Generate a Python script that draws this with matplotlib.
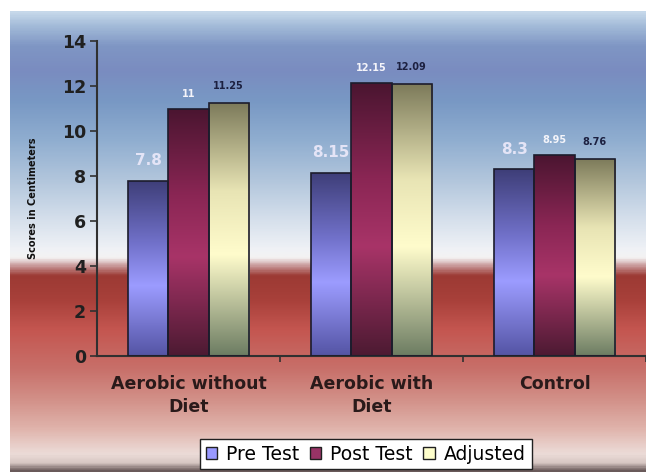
import numpy as np
import matplotlib.pyplot as plt
from matplotlib.colors import LinearSegmentedColormap
from matplotlib.patches import Patch

plt.rcParams['font.family'] = ['DejaVu Sans']

groups = ['Aerobic without\nDiet', 'Aerobic with\nDiet', 'Control']
series = ['Pre Test', 'Post Test', 'Adjusted']
pre_test = [7.8, 8.15, 8.3]
post_test = [11, 12.15, 8.95]
adjusted = [11.25, 12.09, 8.76]
y_ticks = [0, 2, 4, 6, 8, 10, 12, 14]

W, H = 646, 472
fig = plt.figure(figsize=(W / 100, H / 100), dpi=100)

# backdrop: blue sky fading to white, then a red band fading out at the bottom
bg_stops = [(11, '#c6d8ea'), (25, '#a2bad8'), (45, '#7f96c4'), (70, '#7a8cc0'),
            (100, '#7898c4'), (140, '#90aed0'), (180, '#b2c6dc'), (220, '#d6e0ec'),
            (250, '#f0f2f6'), (258, '#f4f2f2'), (266, '#c89898'), (276, '#9c3a34'),
            (300, '#a8403a'), (330, '#c45650'), (370, '#c8706a'), (400, '#d29088'),
            (430, '#e0b4ac'), (455, '#ecdcd8'), (464, '#d8c8c4'), (472, '#6a5a5a')]
bg_cmap = LinearSegmentedColormap.from_list(
    'bg', [((y - 11) / 461, c) for y, c in bg_stops])
bg = fig.add_axes([10 / W, 0, 636 / W, 461 / H])
bg.set_axis_off()
bg.imshow(np.linspace(0, 1, 600).reshape(-1, 1), cmap=bg_cmap, aspect='auto',
          interpolation='bilinear')

ax = fig.add_axes([97 / W, (H - 356) / H, 549 / W, 315 / H])
ax.patch.set_alpha(0)

# per-bar shading: dark top, bright band, darker foot
bar_cmaps = [
    LinearSegmentedColormap.from_list('pre', [(0, '#3e3e78'), (0.35, '#7070c8'), (0.6, '#9c9cff'), (1, '#5454a4')]),
    LinearSegmentedColormap.from_list('post', [(0, '#4a1530'), (0.35, '#8a2654'), (0.6, '#a83468'), (1, '#4c1a32')]),
    LinearSegmentedColormap.from_list('adj', [(0, '#7c7a5a'), (0.35, '#e8e4b4'), (0.6, '#fffccc'), (1, '#6c7c62')]),
]
legend_colors = ['#9999ff', '#993366', '#ffffcc']

x = np.arange(len(groups))
w = 0.22
grad = np.linspace(0, 1, 256).reshape(-1, 1)
for i, vals in enumerate([pre_test, post_test, adjusted]):
    bars = ax.bar(x + (i - 1) * w, vals, w, color='none', edgecolor='#1c1c2c',
                  linewidth=1.2, zorder=3)
    for b in bars:
        x0 = b.get_x()
        im = ax.imshow(grad, cmap=bar_cmaps[i], aspect='auto', origin='upper',
                       extent=[x0, x0 + w, 0, b.get_height()], zorder=2)
        im.set_clip_path(b)

# value labels
for xi, v in zip(x - w, pre_test):
    ax.annotate(f'{v:g}', (xi, v), xytext=(0, 14.5), textcoords='offset points',
                ha='center', va='center', fontsize=11, fontweight='bold', color='#e4e4f6')
for xi, v in zip(x, post_test):
    ax.annotate(f'{v:g}', (xi, v), xytext=(0, 10.5), textcoords='offset points',
                ha='center', va='center', fontsize=7, fontweight='bold', color='#f4f4fa')
for xi, v in zip(x + w, adjusted):
    ax.annotate(f'{v:g}', (xi, v), xytext=(0, 12), textcoords='offset points',
                ha='center', va='center', fontsize=7, fontweight='bold', color='#1c2040')

ax.set_xlim(-0.5, 2.5)
ax.set_ylim(0, 14)
ax.set_yticks(y_ticks)
ax.set_xticks(x, groups, fontsize=12.5, fontweight='bold', color='#2a1a1a', linespacing=1.3)
ax.set_xticks([0.5, 1.5, 2.5], minor=True)
ax.tick_params(axis='x', which='major', length=0, pad=14)
ax.tick_params(axis='x', which='minor', length=4, width=1.2, color='#303030')
ax.tick_params(axis='y', length=5, width=1.2, color='#303030', pad=3,
               labelsize=12.5, labelcolor='#202020')
for t in ax.get_yticklabels():
    t.set_fontweight('bold')
for s in ['top', 'right']:
    ax.spines[s].set_visible(False)
for s in ['left', 'bottom']:
    ax.spines[s].set_color('#303030')
    ax.spines[s].set_linewidth(1.5)

ax.set_ylabel('Scores in Centimeters', fontsize=7, fontweight='heavy', color='#101010')
ax.yaxis.set_label_coords(-0.107, 0.5)

handles = [Patch(facecolor=c, edgecolor='#202020', linewidth=1) for c in legend_colors]
leg = fig.legend(handles, series, loc='upper left', bbox_to_anchor=(200 / W, 1 - 439 / H),
                 ncol=3, frameon=True, fancybox=False, edgecolor='#202020', framealpha=1,
                 fontsize=13.5, handlelength=0.6, handleheight=0.6, handletextpad=0.5,
                 columnspacing=0.55, borderpad=0.3, borderaxespad=0)
leg.get_frame().set_linewidth(1)

fig.savefig('out.png', dpi=100)
